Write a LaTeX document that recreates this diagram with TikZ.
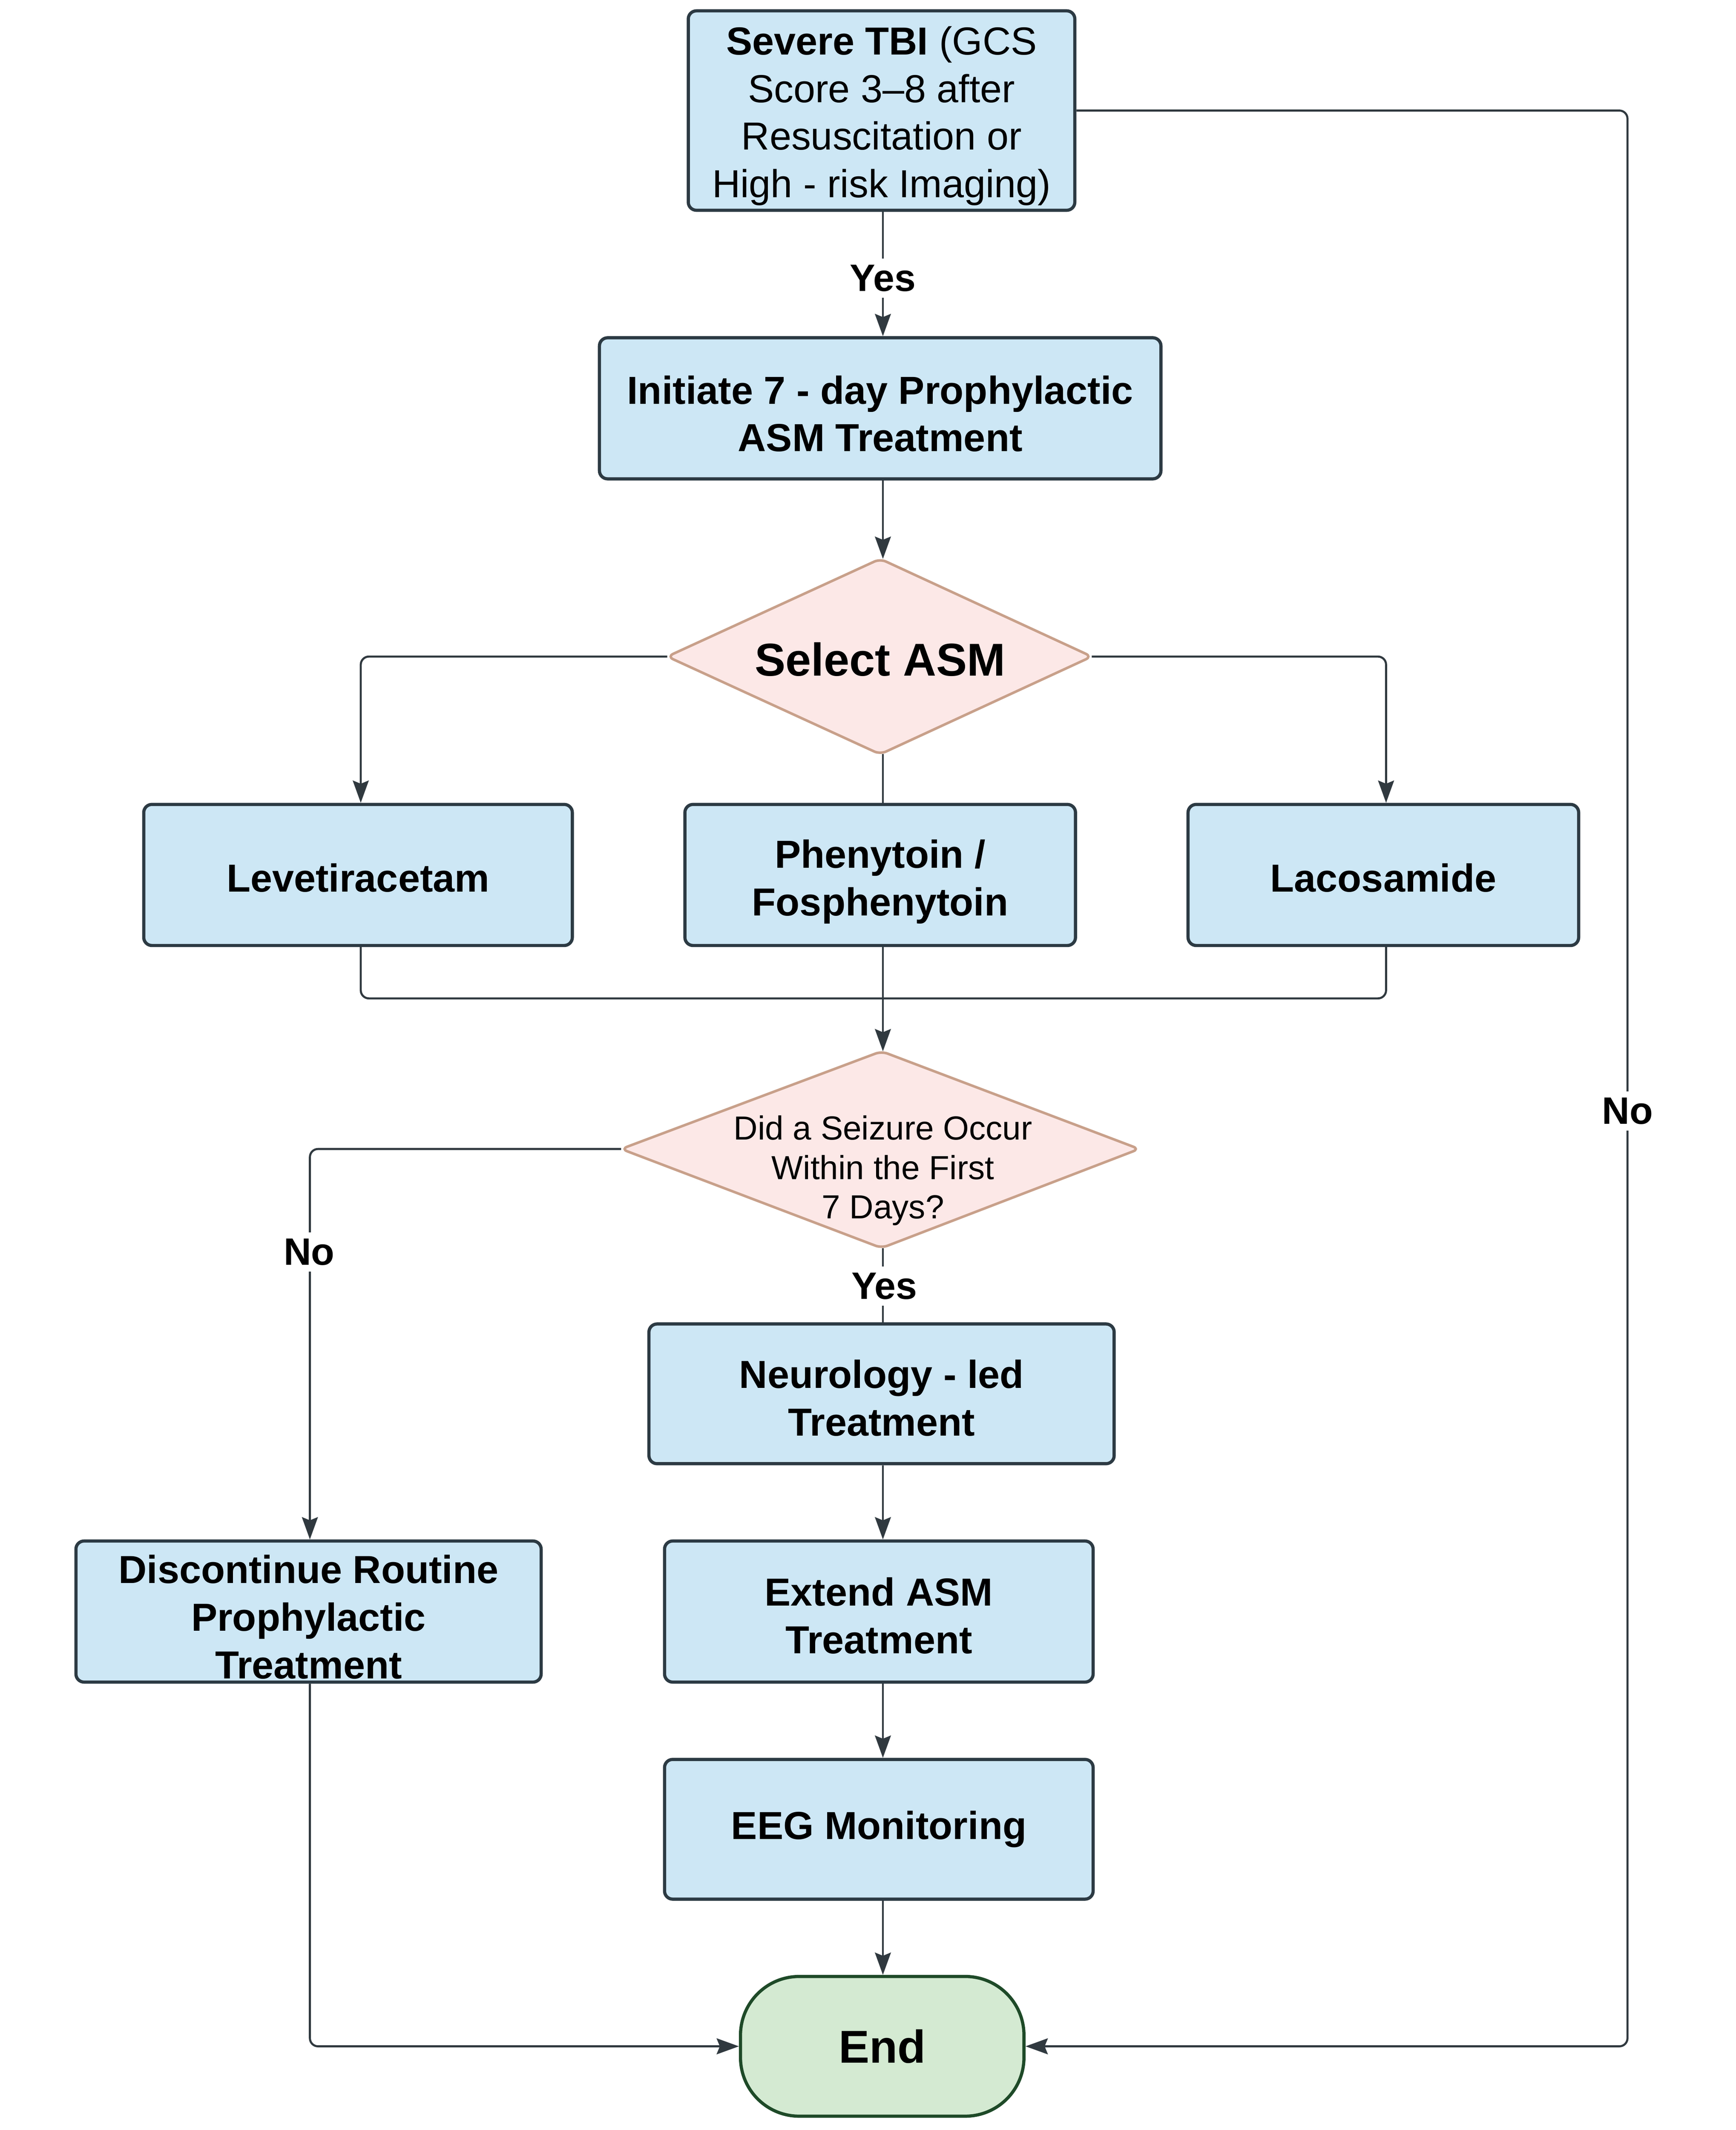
\documentclass[tikz,border=0pt]{standalone}
\usepackage{fontspec}
\setmainfont{Liberation Sans}
\usetikzlibrary{arrows.meta,calc}
\definecolor{boxfill}{HTML}{CDE7F5}
\definecolor{boxline}{HTML}{2C3A43}
\definecolor{diafill}{HTML}{FCE8E7}
\definecolor{dialine}{HTML}{C8A08A}
\definecolor{endfill}{HTML}{D4EAD2}
\definecolor{endline}{HTML}{1E4A28}
\definecolor{conn}{HTML}{30393F}
\newcommand{\bxf}{\fontsize{24.6pt}{29.9pt}\selectfont}
\begin{document}
\begin{tikzpicture}[x=0.03cm,y=-0.03cm,
  box/.style={draw=boxline, fill=boxfill, line width=2pt, rounded corners=0.18cm,
    inner sep=0pt, minimum height=3.12cm},
  btxt/.style={align=center, inner sep=0pt, font=\bxf\bfseries},
  dia/.style={draw=dialine, fill=diafill, line width=1.6pt, rounded corners=4pt},
  conline/.style={draw=conn, line width=1.3pt},
  arr/.style={conline, -{Stealth[length=14pt,width=10pt,inset=2pt]}},
  lbl/.style={fill=white, font=\fontsize{24pt}{28pt}\selectfont\bfseries, inner sep=4pt}]
\useasboundingbox (0,0) rectangle (1280,1570.2);

% ---- boxes ----
\node[box, minimum width=8.55cm, minimum height=4.41cm] (tbi) at (650,81.5) {};
\node[btxt, font=\bxf] (tbiT) at ($(tbi.center)+(0,4)$)
  {\textbf{Severe TBI} (GCS\\Score 3–8 after\\Resuscitation or\\High - risk Imaging)};
\node[box, minimum width=12.42cm] (init) at (649,301) {};
\node[btxt] (initT) at ($(init.center)+(0,4)$) {Initiate 7 - day Prophylactic\\ASM Treatment};

% Select ASM diamond
\coordinate (selW) at (492,484);
\coordinate (selE) at (805,484);
\coordinate (selN) at (649,412);
\coordinate (selS) at (649,556);
\draw[dia] (selW) -- (selN) -- (selE) -- (selS) -- cycle;
\node[font=\fontsize{29pt}{34pt}\selectfont\bfseries] (sel) at (649,486) {Select ASM};

\node[box, minimum width=9.48cm] (lev) at (264,645) {};
\node[btxt] (levT) at ($(lev.center)+(0,2)$) {Levetiracetam};
\node[box, minimum width=8.64cm] (phe) at (649,645) {};
\node[btxt] (pheT) at ($(phe.center)+(0,5)$) {Phenytoin /\\Fosphenytoin};
\node[box, minimum width=8.64cm] (lac) at (1020,645) {};
\node[btxt] (lacT) at ($(lac.center)+(0,2)$) {Lacosamide};

% Seizure diamond
\coordinate (seiW) at (458,847);
\coordinate (seiE) at (840,847);
\coordinate (seiN) at (650,775);
\coordinate (seiS) at (650,920);
\draw[dia] (seiW) -- (seiN) -- (seiE) -- (seiS) -- cycle;
\node[align=center, font=\fontsize{21pt}{24.8pt}\selectfont] (sei) at (651,863)
  {Did a Seizure Occur\\Within the First\\7 Days?};

\node[box, minimum width=10.29cm, minimum height=3.09cm] (neu) at (650,1027.5) {};
\node[btxt] (neuT) at ($(neu.center)+(0,3)$) {Neurology - led\\Treatment};
\node[box, minimum width=9.48cm] (ext) at (648,1188) {};
\node[btxt] (extT) at ($(ext.center)+(0,3)$) {Extend ASM\\Treatment};
\node[box, minimum width=9.48cm, minimum height=3.09cm] (eeg) at (648,1348.5) {};
\node[btxt] (eegT) at ($(eeg.center)+(0,0)$) {EEG Monitoring};
\node[box, minimum width=10.29cm] (dis) at (227.5,1188) {};
\node[btxt] (disT) at ($(dis.center)+(0,4)$) {Discontinue Routine\\Prophylactic\\Treatment};
\node[draw=endline, fill=endfill, line width=2pt, rounded corners=1.3cm,
  minimum width=6.27cm, minimum height=3.09cm, inner sep=0pt,
  font=\fontsize{29pt}{34pt}\selectfont\bfseries] (end) at (650.5,1508.5) {End};

% ---- connectors ----
\coordinate (rc) at (1200,81.5);
\coordinate (mer) at (651,736);

\draw[arr] (tbi.south -| 651,0) -- (init.north -| 651,0);
\node[lbl] (yes1) at (651,205) {Yes};

\draw[arr] (init.south -| 651,0) -- (selN -| 651,0);

\draw[arr, rounded corners=0.18cm] (selW) -- ($(selW -| lev.north)+(2,0)$) -- ($(lev.north)+(2,0)$);
\draw[arr, rounded corners=0.18cm] (selE) -- ($(selE -| lac.north)+(2,0)$) -- ($(lac.north)+(2,0)$);
\draw[conline] (selS -| 651,0) -- (phe.north -| 651,0);

\draw[conline, rounded corners=0.18cm] ($(lev.south)+(2,0)$) |- (mer);
\draw[conline, rounded corners=0.18cm] ($(lac.south)+(2,0)$) |- (mer);
\draw[arr] (phe.south -| 651,0) -- (seiN -| 651,0);

\draw[arr, rounded corners=0.18cm] (seiW) -| ($(dis.north)+(1,0)$);
\node[lbl] (no1) at (228,923) {No};

\draw[conline] (seiS -| 651,0) -- (neu.north -| 651,0);
\node[lbl] (yes2) at (652,948) {Yes};

\draw[arr] (neu.south -| 651,0) -- (ext.north -| 651,0);
\draw[arr] (ext.south -| 651,0) -- (eeg.north -| 651,0);
\draw[arr] (eeg.south -| 651,0) -- (end.north -| 651,0);

\draw[arr, rounded corners=0.18cm] ($(dis.south)+(1,0)$) |- (end.west);
\draw[arr, rounded corners=0.18cm] (tbi.east) -- (rc) |- (end.east);
\node[lbl] (no2) at (1200,819) {No};
\end{tikzpicture}
\end{document}
